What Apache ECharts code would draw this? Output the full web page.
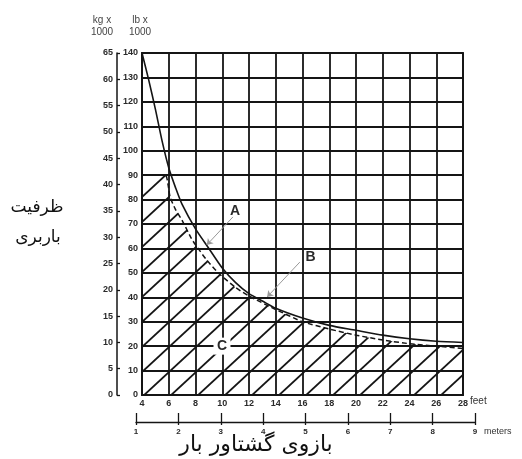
<!DOCTYPE html>
<html><head><meta charset="utf-8">
<script src="https://cdn.jsdelivr.net/npm/echarts@6/dist/echarts.min.js"></script>
<style>html,body{margin:0;padding:0;background:#fff}#c{width:522px;height:459px}</style>
</head><body><div id="c"></div>
<script>
// ---- data ----
const solidFeet = [4, 4.5, 5, 5.5, 6, 6.5, 7, 8, 9, 10, 11, 12, 13, 14, 16, 18, 20, 22, 24, 26, 28];
const solidLb   = [140, 129, 117, 104, 93, 85, 78, 68, 60, 52, 46, 41.5, 38.5, 35.5, 31.5, 28.5, 26.5, 24.5, 23, 22, 21.5];
const dashFeet  = [4, 5.75, 5.95, 6.1, 6.5, 7, 7.7, 8, 8.8, 9.8, 11, 12, 14, 16, 18, 20, 22, 24, 26, 28];
const dashLb    = [90, 90, 86, 81, 76, 71.5, 64, 61.5, 55.5, 49.5, 44, 40.5, 35, 30, 27, 24.5, 22.5, 21, 20, 19];
const feetRange  = [4, 28, 2];
const lbRange    = [0, 140, 10];
const kgRange    = [0, 65, 5];
const meterRange = [1, 9, 1];
const annotLabels = ['A', 'B', 'C'];
const annotFeet   = [10.95, 16.6, 9.98];
const annotLb     = [75.3, 56.5, 20];
const leaderFrom  = [[10.8, 72.9], [15.8, 54.4]];
const leaderTo    = [[8.84, 61.4], [13.35, 40.1]];
const titleX = 'بازوی گشتاور بار';
const titleY = ['ظرفیت', 'باربری'];

// ---- hatch pattern ----
function hatch() {
  const w = 27, h = 25, off = 0.14;
  const c = document.createElement('canvas');
  c.width = w; c.height = h;
  const g = c.getContext('2d');
  g.strokeStyle = '#151515'; g.lineWidth = 1.8;
  for (let k = -2; k <= 3; k++) {
    g.beginPath();
    g.moveTo(-w, h * (k + off + 1));
    g.lineTo(2 * w, h * (k + off - 2));
    g.stroke();
  }
  return c;
}

const ink = '#151515';
const lblFont = {fontFamily: 'Liberation Sans', fontWeight: 'bold', fontSize: 9, color: '#2a2a2a'};
const small = {fontFamily: 'Liberation Sans', fontSize: 10, fill: '#444', lineHeight: 12, align: 'center', verticalAlign: 'top'};
const fa = {fontFamily: 'DejaVu Sans', fill: '#111', align: 'center', verticalAlign: 'middle'};
const chart = echarts.init(document.getElementById('c'), null, {renderer: 'canvas'});
chart.setOption({
  animation: false,
  backgroundColor: '#fff',
  grid: [
    {left: 142, top: 53, width: 321, height: 342, show: true, borderColor: ink, borderWidth: 1.8, backgroundColor: 'transparent'},
    {left: 136, top: 400, width: 339, height: 22},
    {left: 136, top: 400, width: 339, height: 22}
  ],
  xAxis: [
    {gridIndex: 0, type: 'value', min: feetRange[0], max: feetRange[1], interval: feetRange[2],
     axisLine: {show: true, lineStyle: {color: ink, width: 1.8}}, axisTick: {show: false},
     axisLabel: Object.assign({margin: 4}, lblFont),
     splitLine: {show: true, lineStyle: {color: ink, width: 1.8}}},
    {gridIndex: 1, type: 'value', min: meterRange[0], max: meterRange[1], interval: meterRange[2], position: 'bottom',
     axisLine: {show: true, lineStyle: {color: ink, width: 1.3}},
     axisTick: {show: true, inside: true, length: 9, lineStyle: {color: ink, width: 1.3}},
     axisLabel: Object.assign({margin: 6}, lblFont, {fontSize: 8}),
     splitLine: {show: false}},
    {gridIndex: 2, type: 'value', min: meterRange[0], max: meterRange[1], interval: meterRange[2], position: 'bottom',
     axisLine: {show: false}, axisTick: {show: true, inside: false, length: 3, lineStyle: {color: ink, width: 1.3}},
     axisLabel: {show: false}, splitLine: {show: false}}
  ],
  yAxis: [
    {gridIndex: 0, type: 'value', min: lbRange[0], max: lbRange[1], interval: lbRange[2], position: 'left',
     axisLine: {show: true, lineStyle: {color: ink, width: 1.8}}, axisTick: {show: false},
     axisLabel: Object.assign({margin: 4}, lblFont),
     splitLine: {show: true, lineStyle: {color: ink, width: 1.8}}},
    {gridIndex: 0, type: 'value', min: kgRange[0], max: kgRange[1], interval: kgRange[2], position: 'left', offset: 25,
     axisLine: {show: true, lineStyle: {color: ink, width: 1.5}},
     axisTick: {show: true, inside: true, length: 3, lineStyle: {color: ink, width: 1.3}},
     axisLabel: Object.assign({margin: 4}, lblFont),
     splitLine: {show: false}},
    {gridIndex: 1, type: 'value', show: false},
    {gridIndex: 2, type: 'value', show: false}
  ],
  graphic: [
    {type: 'text', x: 102, y: 14, style: Object.assign({text: 'kg x\n1000'}, small)},
    {type: 'text', x: 140, y: 14, style: Object.assign({text: 'lb x\n1000'}, small)},
    {type: 'text', x: 470, y: 396, style: {text: 'feet', fontFamily: 'Liberation Sans', fontSize: 10, fill: '#333'}},
    {type: 'text', x: 484, y: 427, style: {text: 'meters', fontFamily: 'Liberation Sans', fontSize: 9, fill: '#333'}},
    {type: 'text', x: 256, y: 445, style: Object.assign({text: titleX, fontSize: 22}, fa)},
    {type: 'text', x: 37, y: 208, style: Object.assign({text: titleY[0], fontSize: 17}, fa)},
    {type: 'text', x: 38, y: 238, style: Object.assign({text: titleY[1], fontSize: 17}, fa)}
  ],
  series: [
    {type: 'line', xAxisIndex: 0, yAxisIndex: 0, symbol: 'none', smooth: 0.2, z: 3,
     data: dashFeet.map((x, i) => [x, dashLb[i]]),
     lineStyle: {color: ink, width: 1.5, type: [5, 3]},
     areaStyle: {color: {image: hatch(), repeat: 'repeat'}, opacity: 1}},
    {type: 'line', xAxisIndex: 0, yAxisIndex: 0, symbol: 'none', smooth: 0.25, z: 4,
     data: solidFeet.map((x, i) => [x, solidLb[i]]),
     lineStyle: {color: ink, width: 1.6}},
    {type: 'scatter', xAxisIndex: 0, yAxisIndex: 0, symbol: 'rect', z: 6,
     itemStyle: {opacity: 1},
     data: annotLabels.map((t, i) => ({value: [annotFeet[i], annotLb[i]], name: t,
       symbolSize: t === 'C' ? [17, 17] : 0,
       itemStyle: {color: '#fff', opacity: 1},
       label: {show: true, position: 'inside', formatter: t, fontFamily: 'Liberation Sans', fontSize: 14, fontWeight: 'bold', color: '#2a2a2a', opacity: 1}})),
     markLine: {silent: true, symbol: ['none', 'arrow'], symbolSize: 6, label: {show: false},
       lineStyle: {color: '#999', width: 1, type: 'solid', opacity: 1},
       data: leaderFrom.map((p, i) => [{coord: p}, {coord: leaderTo[i]}])}}
  ]
});
</script></body></html>
